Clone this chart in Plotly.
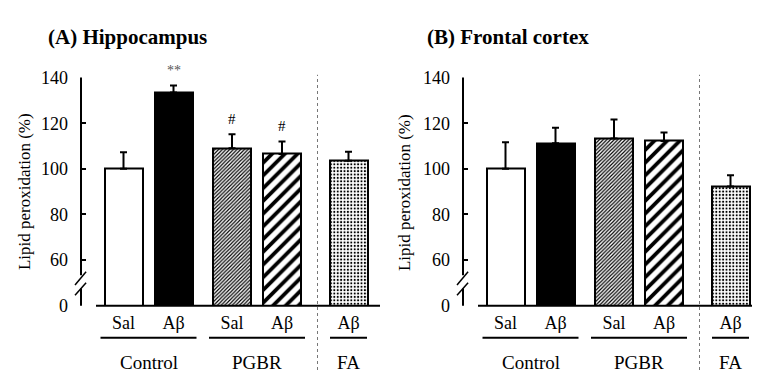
import plotly.graph_objects as go

# ---------------- data ----------------
treatments = ["Sal", "Aβ", "Sal", "Aβ", "Aβ"]
groups = ["Control", "PGBR", "FA"]
group_members = [[0, 1], [2, 3], [4]]

hippo_mean = [100.0, 133.5, 109.0, 106.5, 103.5]
hippo_sem = [7.3, 3.0, 6.2, 5.5, 4.0]
hippo_sig = ["", "**", "#", "#", ""]

frontal_mean = [100.0, 111.2, 113.3, 112.2, 92.3]
frontal_sem = [11.7, 6.8, 8.3, 3.7, 4.9]
frontal_sig = ["", "", "", "", ""]

ytick_vals = [40, 60, 80, 100, 120, 140]
ytick_text = ["0", "60", "80", "100", "120", "140"]

# ---------------- layout constants ----------------
W, H = 760, 372
FONT = "Liberation Serif, 'Times New Roman', Times, 'DejaVu Serif', serif"
x_pos = [0, 1, 2.17, 3.17, 4.5]
bar_width = 0.76
x_range = [-0.85, 5.13]
y_range = [40, 140]
y_dom = [(H - 304) / H, (H - 63) / H]
divider_x = 3.88

fill_colors = ["white", "black", "white", "white", "white"]
pat_shape = ["", "", "/", "/", "."]
pat_size = [6, 6, 2.6, 9, 3.4]
pat_solid = [0.3, 0.3, 0.45, 0.42, 0.3]


def yp(v):
    return y_dom[0] + (v - y_range[0]) / (y_range[1] - y_range[0]) * (y_dom[1] - y_dom[0])


panels = [
    dict(xa="x", ya="y", dom=[73 / W, 372 / W], mean=hippo_mean, sem=hippo_sem,
         sig=hippo_sig, title="(A) Hippocampus", title_x=38, ytitle_x=16),
    dict(xa="x2", ya="y2", dom=[455 / W, 754 / W], mean=frontal_mean, sem=frontal_sem,
         sig=frontal_sig, title="(B) Frontal cortex", title_x=417, ytitle_x=396),
]

fig = go.Figure()
shapes = []
annotations = []
line_k = dict(color="black", width=2)

for i, p in enumerate(panels):
    for j in range(len(x_pos)):
        pattern = dict(shape=pat_shape[j], fillmode="replace")
        if pat_shape[j]:
            pattern.update(size=pat_size[j], solidity=pat_solid[j],
                           fgcolor="black", bgcolor="white")
        fig.add_trace(go.Bar(
            x=[x_pos[j]], y=[p["mean"][j]], width=bar_width,
            xaxis=p["xa"], yaxis=p["ya"],
            marker=dict(color=fill_colors[j], line=dict(color="black", width=2),
                        pattern=pattern),
            error_y=dict(type="data", array=[p["sem"][j]], arrayminus=[0], symmetric=False,
                         thickness=2, width=3.5, color="black"),
            showlegend=False, hoverinfo="skip",
        ))
    suffix = "" if i == 0 else "2"
    fig.update_layout(**{
        "xaxis" + suffix: dict(domain=p["dom"], range=x_range, anchor=p["ya"],
                               showgrid=False, zeroline=False, showline=False,
                               ticks="", tickvals=x_pos, ticktext=treatments,
                               tickfont=dict(family=FONT, size=18, color="black"),
                               ticklabelstandoff=4, fixedrange=True),
        "yaxis" + suffix: dict(domain=y_dom, range=y_range, anchor=p["xa"],
                               showgrid=False, zeroline=False, showline=False,
                               ticks="inside", ticklen=5, tickwidth=2, tickcolor="black",
                               tickvals=ytick_vals, ticktext=ytick_text,
                               tickfont=dict(family=FONT, size=18, color="black"),
                               ticklabelstandoff=12, fixedrange=True),
    })
    xd = p["xa"] + " domain"
    # y axis line with break
    shapes.append(dict(type="line", xref=xd, yref="paper", x0=0, x1=0,
                       y0=yp(140), y1=yp(53.3), line=line_k))
    shapes.append(dict(type="line", xref=xd, yref="paper", x0=0, x1=0,
                       y0=yp(47.5), y1=yp(40), line=line_k))
    for a, b in [(49.1, 54.9), (44.6, 50.0)]:
        shapes.append(dict(type="line", xref=xd, yref="paper", x0=-0.02, x1=0.017,
                           y0=yp(a), y1=yp(b), line=dict(color="black", width=1.5)))
    # baseline
    shapes.append(dict(type="line", xref=p["xa"], yref="paper", x0=-0.55, x1=x_range[1],
                       y0=yp(40), y1=yp(40), line=line_k, layer="above"))
    # divider
    shapes.append(dict(type="line", xref=p["xa"], yref="paper", x0=divider_x, x1=divider_x,
                       y0=0, y1=(H - 60) / H, line=dict(color="#777", width=1, dash="dot")))
    # group underlines and labels
    for g, members in zip(groups, group_members):
        lo = x_pos[members[0]]
        hi = x_pos[members[-1]]
        ext = 0.46 if len(members) > 1 else 0.37
        shapes.append(dict(type="line", xref=p["xa"], yref="paper", x0=lo - ext, x1=hi + ext,
                           y0=(H - 338) / H, y1=(H - 338) / H, line=line_k))
        annotations.append(dict(text=g, xref=p["xa"], yref="paper", x=(lo + hi) / 2,
                                y=(H - 364) / H, showarrow=False, xanchor="center",
                                yanchor="middle",
                                font=dict(family=FONT, size=19, color="black")))
    # significance marks
    for xv, m, s, t in zip(x_pos, p["mean"], p["sem"], p["sig"]):
        if t:
            annotations.append(dict(text=t, xref=p["xa"], yref=p["ya"], x=xv, y=m + s,
                                    yshift=15, showarrow=False, yanchor="middle",
                                    font=dict(family=FONT, size=15 if t == "#" else 14,
                                              color="black" if t == "#" else "#555")))
    # titles
    annotations.append(dict(text="<b>" + p["title"] + "</b>", xref="paper", yref="paper",
                            x=p["title_x"] / W, y=(H - 20) / H, showarrow=False,
                            xanchor="left", yanchor="middle",
                            font=dict(family=FONT, size=21, color="black")))
    annotations.append(dict(text="Lipid peroxidation (%)", xref="paper", yref="paper",
                            x=p["ytitle_x"] / W, y=(H - 184) / H, showarrow=False,
                            textangle=-90, xanchor="center", yanchor="middle",
                            font=dict(family=FONT, size=17, color="black")))

fig.update_layout(
    width=W, height=H, margin=dict(l=0, r=0, t=0, b=0),
    paper_bgcolor="white", plot_bgcolor="white",
    shapes=shapes, annotations=annotations, bargap=0, barmode="overlay",
)

fig.write_html("out.html")
